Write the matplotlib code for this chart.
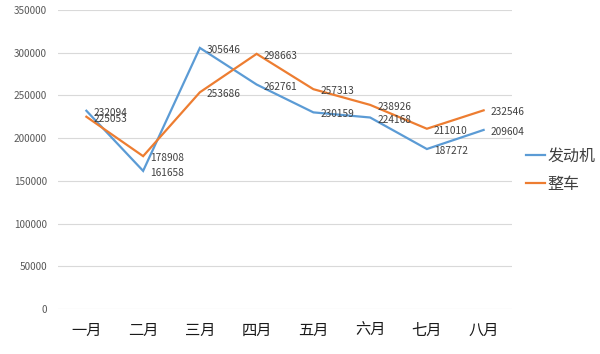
import matplotlib
matplotlib.use("Agg")
import matplotlib.pyplot as plt
from matplotlib.lines import Line2D

plt.rcParams['font.family'] = ['Noto Sans CJK SC', 'DejaVu Sans']

months = ['一月', '二月', '三月', '四月', '五月', '六月', '七月', '八月']
engine = [232094, 161658, 305646, 262761, 230159, 224168, 187272, 209604]
vehicle = [225053, 178908, 253686, 298663, 257313, 238926, 211010, 232546]
series_names = ['发动机', '整车']
yticks = [0, 50000, 100000, 150000, 200000, 250000, 300000, 350000]

blue = '#5B9BD5'
orange = '#ED7D31'

fig = plt.figure(figsize=(6.0, 3.54), dpi=100)
ax = fig.add_axes([58/600, 1 - 309/354, (512-58)/600, (309-10)/354])

x = list(range(len(months)))
ax.plot(x, engine, color=blue, lw=1.6, solid_joinstyle='miter')
ax.plot(x, vehicle, color=orange, lw=1.6, solid_joinstyle='miter')

for xi, v in zip(x, engine):
    ax.annotate(str(v), (xi, v), xytext=(5, -1.5), textcoords='offset points',
                ha='left', va='center', fontsize=7.3, color='#404040')
for xi, v in zip(x, vehicle):
    ax.annotate(str(v), (xi, v), xytext=(5, -1.5), textcoords='offset points',
                ha='left', va='center', fontsize=7.3, color='#404040')

ax.set_xlim(-0.5, len(months) - 0.5)
ax.set_ylim(0, 350000)
ax.set_yticks(yticks)
ax.set_yticklabels([str(t) for t in yticks], fontsize=7.2, color='#595959')
ax.set_xticks(x)
ax.set_xticklabels(months, fontsize=11, color='#1a1a1a')
ax.tick_params(axis='both', length=0)
ax.tick_params(axis='x', pad=9)
ax.tick_params(axis='y', pad=8)
for s in ax.spines.values():
    s.set_visible(False)
ax.grid(axis='y', color='#D9D9D9', lw=0.8)
ax.set_axisbelow(True)

handles = [Line2D([0], [0], color=blue, lw=1.6), Line2D([0], [0], color=orange, lw=1.6)]
fig.legend(handles, series_names, loc='center left', bbox_to_anchor=(0.853, 0.52),
           frameon=False, fontsize=11.5, handlelength=1.2, handletextpad=0.15,
           labelspacing=0.7, labelcolor='#404040')

fig.savefig('out.png', dpi=100)
